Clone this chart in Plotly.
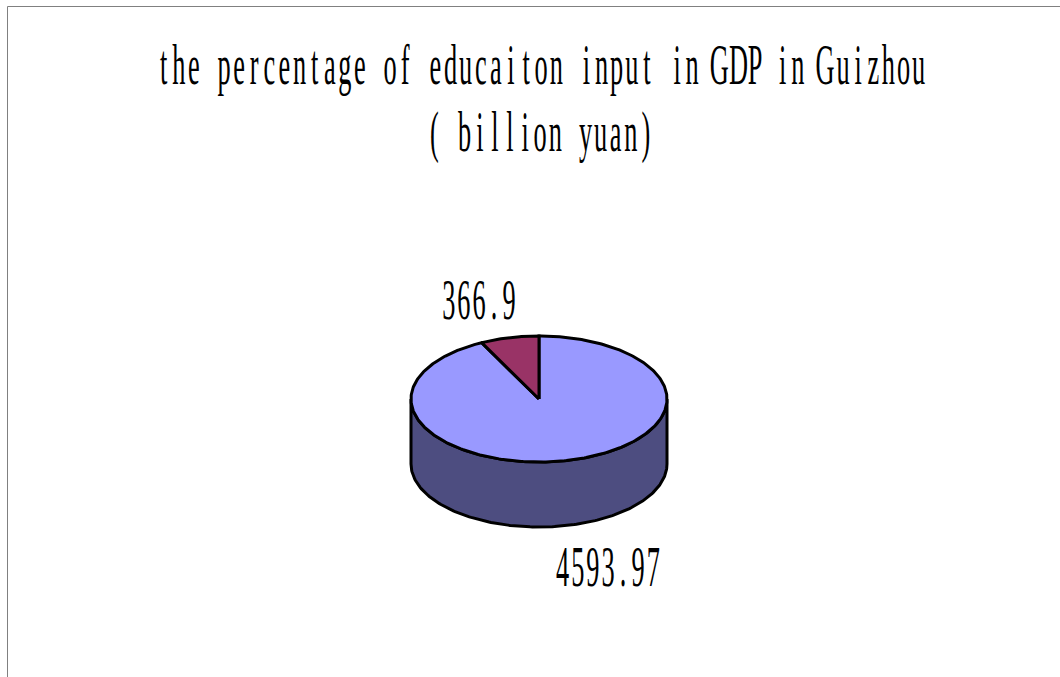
import numpy as np
import plotly.graph_objects as go

title_lines = ["the percentage of educaiton input in GDP in Guizhou", "( billion yuan)"]
slice_values = [4593.97, 366.9]
slice_labels = ["4593.97", "366.9"]
slice_colors = ["#9999FF", "#993366"]
side_color = "#4D4D80"

W, H = 1060, 677
CX, CY, RX = 539, 399, 128
TILT = 63 / 128
DEPTH = 65 / 128

shares = np.array(slice_values) / sum(slice_values)
small_sweep = shares[1] * 2 * np.pi


def ellipse(a):
    return np.sin(a), TILT * np.cos(a)


fig = go.Figure()
line = dict(color="black", width=3)
common = dict(mode="lines", fill="toself", line=line, hoverinfo="skip", showlegend=False)

# side wall: front half of the rim, extruded downwards
a = np.linspace(np.pi / 2, 3 * np.pi / 2, 181)
x, y = ellipse(a)
fig.add_trace(go.Scatter(x=np.r_[x, x[::-1], x[0]], y=np.r_[y, y[::-1] - DEPTH, y[0]],
                         fillcolor=side_color, **common))

# large slice: clockwise from 12 o'clock around to the start of the small one
a = np.linspace(0, 2 * np.pi - small_sweep, 361)
x, y = ellipse(a)
fig.add_trace(go.Scatter(x=np.r_[0, x, 0], y=np.r_[0, y, 0], fillcolor=slice_colors[0], **common))

# small slice
a = np.linspace(2 * np.pi - small_sweep, 2 * np.pi, 41)
x, y = ellipse(a)
fig.add_trace(go.Scatter(x=np.r_[0, x, 0], y=np.r_[0, y, 0], fillcolor=slice_colors[1], **common))

FONT = "Liberation Serif"
texts = [
    (title_lines[0], 540.5, 65, 56),
    (title_lines[1], 540, 132, 56),
    (slice_labels[1], 479, 300, 56),
    (slice_labels[0], 608, 567, 56),
]
for t, px, py, size in texts:
    fig.add_annotation(text=t, x=px / W, y=1 - py / H, xref="paper", yref="paper",
                       xanchor="center", yanchor="middle", showarrow=False,
                       font=dict(family=FONT, size=size, color="black"))

frame = dict(color="#808080", width=1)
fig.add_shape(type="line", xref="paper", yref="paper", x0=7.5 / W, x1=7.5 / W, y0=0, y1=1 - 6.5 / H, line=frame)
fig.add_shape(type="line", xref="paper", yref="paper", x0=7.5 / W, x1=1, y0=1 - 6.5 / H, y1=1 - 6.5 / H, line=frame)

fig.update_layout(
    width=W, height=H, margin=dict(l=0, r=0, t=0, b=0),
    paper_bgcolor="white", plot_bgcolor="white",
    xaxis=dict(range=[-CX / RX, (W - CX) / RX], visible=False, fixedrange=True),
    yaxis=dict(range=[-(H - CY) / RX, CY / RX], visible=False, fixedrange=True),
)

# the reference type is a tall, narrow fixed-pitch face: squeeze each text and
# place its glyphs in equal cells (wide capitals nudged so they do not collide)
post = """
document.documentElement.style.margin = '0';
document.body.style.margin = '0';
document.body.style.overflow = 'hidden';
var CELL = 15.1, SQUEEZE = 0.47, NUDGE = {G: -3, D: 1, P: 2};
document.querySelectorAll('.annotation-text').forEach(function (el) {
  var s = el.textContent, n = s.length;
  var bb = el.getBBox();
  var cx = bb.x + bb.width / 2;
  var xs = [];
  for (var i = 0; i < n; i++) {
    var w = el.getSubStringLength(i, 1) * SQUEEZE;
    var nudge = NUDGE[s[i]] || 0;
    xs.push(((cx - n * CELL / 2 + i * CELL + (CELL - w) / 2 + nudge) / SQUEEZE).toFixed(2));
  }
  el.setAttribute('text-anchor', 'start');
  el.setAttribute('x', xs.join(' '));
  el.setAttribute('transform', 'scale(' + SQUEEZE + ',1)');
});
"""
fig.write_html("out.html", post_script=post, config={"displayModeBar": False})
